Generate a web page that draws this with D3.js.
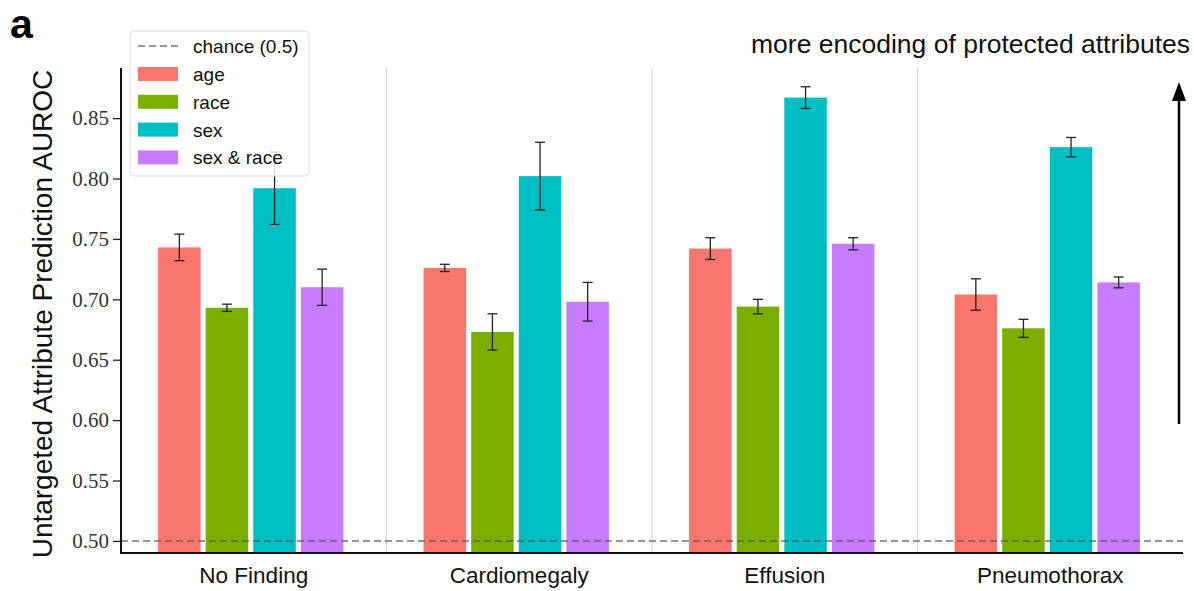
<!DOCTYPE html>
<html>
<head>
<meta charset="utf-8">
<script src="https://cdn.jsdelivr.net/npm/d3@7"></script>
<style>
  body { margin: 0; background: #fff; }
  svg { display: block; }
</style>
</head>
<body>
<div id="chart"></div>
<script>
// chart data
const groups = ["No Finding", "Cardiomegaly", "Effusion", "Pneumothorax"];
const series = ["age", "race", "sex", "sex & race"];
const colors = ["#F8766D", "#7CAE00", "#00BFC4", "#C77CFF"];
// mean AUROC per group, one array per series
const ageVals = [0.743, 0.726, 0.742, 0.704];
const raceVals = [0.693, 0.673, 0.694, 0.676];
const sexVals = [0.792, 0.802, 0.867, 0.826];
const sexRaceVals = [0.710, 0.698, 0.746, 0.714];
// error bar half widths
const ageErr = [0.011, 0.003, 0.009, 0.013];
const raceErr = [0.003, 0.015, 0.006, 0.0075];
const sexErr = [0.030, 0.028, 0.009, 0.008];
const sexRaceErr = [0.015, 0.016, 0.005, 0.0045];
const yTicks = [0.50, 0.55, 0.60, 0.65, 0.70, 0.75, 0.80, 0.85];
const chance = 0.5;

const W = 1194, H = 591;
const mLeft = 121, mRight = 1183, mTop = 68, mBottom = 553;
const sans = "'Liberation Sans', Arial, Helvetica, sans-serif";

const svg = d3.select("#chart").append("svg")
  .attr("width", W).attr("height", H);

const y = d3.scaleLinear().domain([0.49, 0.8915]).range([mBottom, mTop]);
const x = d3.scaleBand().domain(groups).range([mLeft, mRight]);
// bars sit a touch left of the group centre in the original
const xs = d3.scaleBand().domain(series).range([-3, x.bandwidth() - 3])
  .paddingInner(0.107).paddingOuter(0.842);

let allVals = [ageVals, raceVals, sexVals, sexRaceVals];
let allErr = [ageErr, raceErr, sexErr, sexRaceErr];
let rows = [];
groups.forEach(function(g, i) {
  series.forEach(function(s, j) {
    rows.push({group: g, s: s, color: colors[j], v: allVals[j][i], e: allErr[j][i]});
  });
});

// separators between groups
svg.append("g").selectAll("line")
  .data(groups.slice(1))
  .enter().append("line")
  .attr("x1", d => x(d)).attr("x2", d => x(d))
  .attr("y1", mTop).attr("y2", mBottom)
  .style("stroke", "#d0d0d0").style("stroke-width", 1);

// bars
svg.append("g").selectAll("rect")
  .data(rows)
  .enter().append("rect")
  .attr("x", d => x(d.group) + xs(d.s))
  .attr("width", xs.bandwidth())
  .attr("y", d => y(d.v))
  .attr("height", d => mBottom - y(d.v))
  .style("fill", d => d.color);

// chance line
svg.append("line")
  .attr("x1", mLeft).attr("x2", mRight)
  .attr("y1", y(chance)).attr("y2", y(chance))
  .style("stroke", "rgba(80,80,80,0.6)")
  .style("stroke-width", 2)
  .style("stroke-dasharray", "7,4");

// error bars
let eb = svg.append("g").selectAll("g")
  .data(rows)
  .enter().append("g")
  .attr("transform", d => "translate(" + (x(d.group) + xs(d.s) + xs.bandwidth() / 2) + ",0)");
eb.append("line")
  .attr("y1", d => y(d.v + d.e)).attr("y2", d => y(d.v - d.e))
  .style("stroke", "#222").style("stroke-width", 1.3);
eb.append("line")
  .attr("x1", -5).attr("x2", 5)
  .attr("y1", d => y(d.v + d.e)).attr("y2", d => y(d.v + d.e))
  .style("stroke", "#222").style("stroke-width", 1.3);
eb.append("line")
  .attr("x1", -5).attr("x2", 5)
  .attr("y1", d => y(d.v - d.e)).attr("y2", d => y(d.v - d.e))
  .style("stroke", "#222").style("stroke-width", 1.3);

// axes
let yAxis = svg.append("g")
  .attr("transform", "translate(" + mLeft + ",0)")
  .call(d3.axisLeft(y).tickValues(yTicks).tickFormat(d3.format(".2f")).tickSize(8).tickPadding(4));
yAxis.select(".domain").remove();
yAxis.selectAll(".tick line").style("stroke", "#222").style("stroke-width", 1.3);
yAxis.selectAll("text")
  .style("font-family", "'Liberation Serif', serif")
  .style("font-size", "21px").style("fill", "#333");

let xAxis = svg.append("g")
  .attr("transform", "translate(0," + mBottom + ")")
  .call(d3.axisBottom(x).tickSize(0).tickPadding(14));
xAxis.select(".domain").remove();
xAxis.selectAll("text")
  .style("font-family", sans)
  .style("font-size", "22.5px").style("fill", "#111");

// spines
svg.append("line").attr("x1", mLeft).attr("x2", mLeft).attr("y1", mTop).attr("y2", mBottom + 1)
  .style("stroke", "#111").style("stroke-width", 2);
svg.append("line").attr("x1", mLeft).attr("x2", mRight).attr("y1", mBottom).attr("y2", mBottom)
  .style("stroke", "#111").style("stroke-width", 2);

// y title
svg.append("text")
  .attr("transform", "translate(52,314) rotate(-90)")
  .attr("text-anchor", "middle")
  .style("font-family", sans)
  .style("font-size", "28px").style("fill", "#111")
  .text("Untargeted Attribute Prediction AUROC");

// panel letter
svg.append("text")
  .attr("x", 10).attr("y", 38)
  .style("font-family", sans)
  .style("font-weight", "bold").style("font-size", "41px")
  .text("a");

// annotation + arrow
svg.append("text")
  .attr("x", 1190).attr("y", 53)
  .attr("text-anchor", "end")
  .style("font-family", sans)
  .style("font-size", "26.5px").style("fill", "#111")
  .text("more encoding of protected attributes");
svg.append("line").attr("x1", 1179).attr("x2", 1179).attr("y1", 424).attr("y2", 98)
  .style("stroke", "#000").style("stroke-width", 2.5);
svg.append("path").attr("d", "M1179,82 L1186,101 L1172,101 Z").style("fill", "#000");

// legend
let lg = svg.append("g");
lg.append("rect")
  .attr("x", 130).attr("y", 31).attr("width", 179).attr("height", 145)
  .attr("rx", 4)
  .style("fill", "rgba(255,255,255,0.82)")
  .style("stroke", "#ddd").style("stroke-width", 1);
lg.append("line")
  .attr("x1", 138).attr("x2", 178).attr("y1", 46).attr("y2", 46)
  .style("stroke", "#999").style("stroke-width", 2).style("stroke-dasharray", "7,4");
lg.append("text").attr("x", 193).attr("y", 53)
  .style("font-family", sans)
  .style("font-size", "19px").style("fill", "#111")
  .text("chance (0.5)");
let items = lg.selectAll("g.item")
  .data(series)
  .enter().append("g")
  .attr("class", "item")
  .attr("transform", (d, i) => "translate(0," + (74 + i * 27.8) + ")");
items.append("rect")
  .attr("x", 138).attr("y", -7).attr("width", 40).attr("height", 14)
  .style("fill", (d, i) => colors[i]);
items.append("text").attr("x", 193).attr("y", 7)
  .style("font-family", sans)
  .style("font-size", "19px").style("fill", "#111")
  .text(d => d);
</script>
</body>
</html>
